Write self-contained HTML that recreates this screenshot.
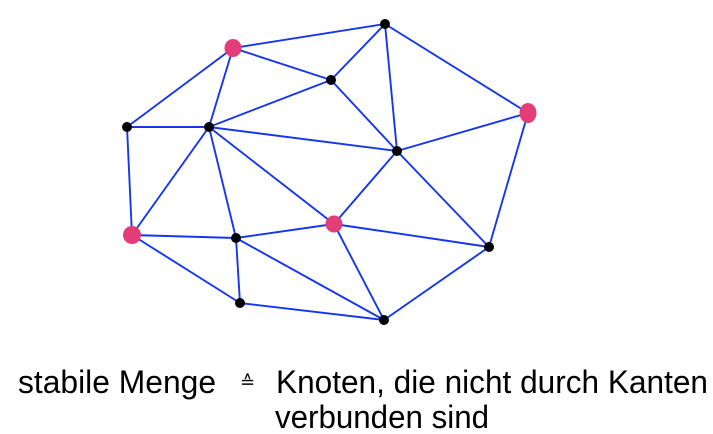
<!DOCTYPE html>
<html><head><meta charset="utf-8"><style>html,body{margin:0;padding:0;background:#fff;width:713px;height:434px;overflow:hidden}</style></head>
<body>
<svg width="713" height="434" xmlns="http://www.w3.org/2000/svg">
<g stroke="#1536ee" stroke-width="1.9" fill="none">
<line x1="233" y1="48" x2="385" y2="24"/>
<line x1="233" y1="48" x2="331" y2="80"/>
<line x1="233" y1="48" x2="127" y2="127"/>
<line x1="233" y1="48" x2="209" y2="127"/>
<line x1="385" y1="24" x2="331" y2="80"/>
<line x1="385" y1="24" x2="397" y2="151"/>
<line x1="385" y1="24" x2="528" y2="113"/>
<line x1="331" y1="80" x2="209" y2="127"/>
<line x1="331" y1="80" x2="397" y2="151"/>
<line x1="528" y1="113" x2="397" y2="151"/>
<line x1="528" y1="113" x2="489" y2="247"/>
<line x1="127" y1="127" x2="209" y2="127"/>
<line x1="127" y1="127" x2="132" y2="235"/>
<line x1="209" y1="127" x2="397" y2="151"/>
<line x1="209" y1="127" x2="132" y2="235"/>
<line x1="209" y1="127" x2="236" y2="238"/>
<line x1="209" y1="127" x2="334" y2="224"/>
<line x1="397" y1="151" x2="334" y2="224"/>
<line x1="397" y1="151" x2="489" y2="247"/>
<line x1="132" y1="235" x2="236" y2="238"/>
<line x1="132" y1="235" x2="240" y2="303"/>
<line x1="334" y1="224" x2="236" y2="238"/>
<line x1="334" y1="224" x2="489" y2="247"/>
<line x1="334" y1="224" x2="384" y2="320"/>
<line x1="236" y1="238" x2="240" y2="303"/>
<line x1="236" y1="238" x2="384" y2="320"/>
<line x1="240" y1="303" x2="384" y2="320"/>
<line x1="384" y1="320" x2="489" y2="247"/>
</g>
<g fill="#000">
<circle cx="385" cy="24" r="5"/><circle cx="331" cy="80" r="5"/>
<circle cx="127" cy="127" r="5"/><circle cx="209" cy="127" r="5"/>
<circle cx="397" cy="151" r="5"/><circle cx="236" cy="238" r="5"/>
<circle cx="489" cy="247" r="5"/><circle cx="240" cy="303" r="5"/>
<circle cx="384" cy="320" r="5"/>
</g>
<g fill="#e33d78">
<ellipse cx="233" cy="48" rx="8.5" ry="9"/>
<ellipse cx="528" cy="113" rx="8.5" ry="10"/>
<ellipse cx="132" cy="235" rx="9" ry="9"/>
<ellipse cx="334" cy="224" rx="8.5" ry="8.5"/>
</g>
<g font-family="Liberation Sans, Arial, sans-serif" font-size="32" fill="#000">
<text x="18" y="393" textLength="198" lengthAdjust="spacingAndGlyphs">stabile Menge</text>
<text x="240" y="388" font-size="18">≙</text>
<text x="276" y="393" textLength="432" lengthAdjust="spacingAndGlyphs">Knoten, die nicht durch Kanten</text>
<text x="275" y="428" textLength="214" lengthAdjust="spacingAndGlyphs">verbunden sind</text>
</g>
</svg>
</body></html>
